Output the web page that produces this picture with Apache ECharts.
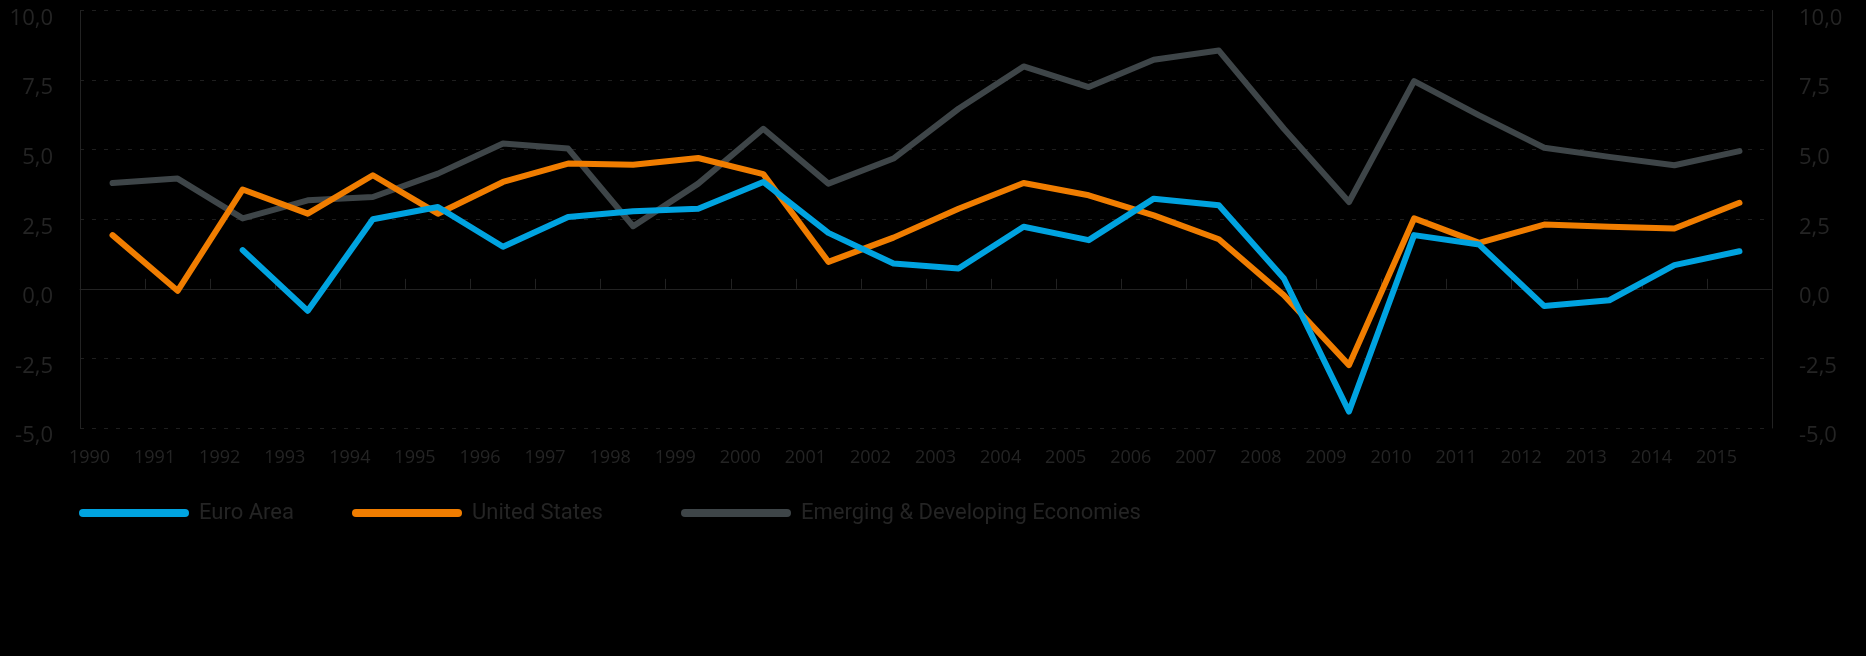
<!DOCTYPE html>
<html>
<head>
<meta charset="utf-8">
<style>
html,body{margin:0;padding:0;background:#000;}
#chart{width:1866px;height:656px;}
</style>
<script src="https://cdn.jsdelivr.net/npm/echarts@6/dist/echarts.min.js"></script>
</head>
<body>
<div id="chart"></div>
<script>
const years = ['1990','1991','1992','1993','1994','1995','1996','1997','1998','1999','2000','2001','2002','2003','2004','2005','2006','2007','2008','2009','2010','2011','2012','2013','2014','2015'];
const euroArea = [null, null, 1.39, -0.79, 2.50, 2.94, 1.51, 2.58, 2.79, 2.88, 3.84, 2.01, 0.91, 0.73, 2.23, 1.75, 3.24, 3.00, 0.37, -4.41, 1.93, 1.59, -0.62, -0.41, 0.85, 1.35];
const unitedStates = [1.93, -0.07, 3.57, 2.70, 4.08, 2.70, 3.84, 4.50, 4.46, 4.70, 4.12, 0.97, 1.84, 2.88, 3.80, 3.36, 2.64, 1.78, -0.23, -2.74, 2.53, 1.65, 2.31, 2.23, 2.17, 3.09];
const emerging = [3.80, 3.96, 2.53, 3.18, 3.30, 4.14, 5.22, 5.04, 2.25, 3.78, 5.75, 3.78, 4.68, 6.47, 7.99, 7.25, 8.23, 8.56, 5.75, 3.12, 7.46, 6.23, 5.07, 4.74, 4.44, 4.95];
const seriesNames = ['Euro Area', 'United States', 'Emerging & Developing Economies'];
const yTicks = {min: -5, max: 10, interval: 2.5};

const colors = ['#00a3e0', '#f07d00', '#3e4548'];
const textColor = '#242424';
const lineColor = '#222222';
const fmt = v => '{a|' + v.toFixed(1).replace('.', ',') + '}';
const legendIcon = 'path://M4,0 H106 A4,4 0 0 1 106,8 H4 A4,4 0 0 1 4,0 Z';

function legendAt(name, left) {
  return {
    data: [name], left: left, top: 497, icon: legendIcon,
    itemWidth: 110, itemHeight: 8, selectedMode: false,
    textStyle: {color: textColor, fontSize: 22, fontFamily: '"Liberation Sans Narrow", Roboto, sans-serif', padding: [0, 0, 0, 5]}
  };
}

const chart = echarts.init(document.getElementById('chart'), null, {renderer: 'canvas'});
const yAxisBase = {
  type: 'value', min: yTicks.min, max: yTicks.max, interval: yTicks.interval,
  axisLine: {show: true, lineStyle: {color: lineColor, width: 1}},
  axisTick: {show: false},
  axisLabel: {
    formatter: fmt, color: textColor, fontSize: 22, fontFamily: '"Open Sans", sans-serif', margin: 27,
    rich: {a: {color: textColor, fontSize: 22, fontFamily: '"Open Sans", sans-serif', padding: [16, 0, 0, 0]}}
  }
};
chart.setOption({
  backgroundColor: '#000',
  animation: false,
  grid: {left: 80, right: 94, top: 10.5, bottom: 228, containLabel: false},
  legend: [legendAt(seriesNames[0], 74), legendAt(seriesNames[1], 347), legendAt(seriesNames[2], 676)],
  xAxis: {
    type: 'category', data: years, boundaryGap: true,
    axisLine: {show: true, lineStyle: {color: lineColor, width: 1}},
    axisTick: {show: true, inside: true, length: 10, lineStyle: {color: lineColor}},
    axisLabel: {color: textColor, fontSize: 18, fontFamily: '"Open Sans", sans-serif', margin: 21, padding: [0, 46, 0, 0], interval: 0}
  },
  yAxis: [
    Object.assign({}, yAxisBase, {position: 'left', splitLine: {show: true, lineStyle: {color: '#1e1e1e', type: [4, 8], width: 1}}}),
    Object.assign({}, yAxisBase, {position: 'right', splitLine: {show: false}})
  ],
  series: [
    {name: seriesNames[0], type: 'line', data: euroArea, yAxisIndex: 0},
    {name: seriesNames[1], type: 'line', data: unitedStates, yAxisIndex: 0},
    {name: seriesNames[2], type: 'line', data: emerging, yAxisIndex: 0}
  ].map((s, i) => Object.assign(s, {
    showSymbol: false, symbol: 'none', z: [3, 2, 1][i],
    lineStyle: {color: colors[i], width: 6, cap: 'round', join: 'round'},
    itemStyle: {color: colors[i]}
  }))
});
</script>
</body>
</html>
